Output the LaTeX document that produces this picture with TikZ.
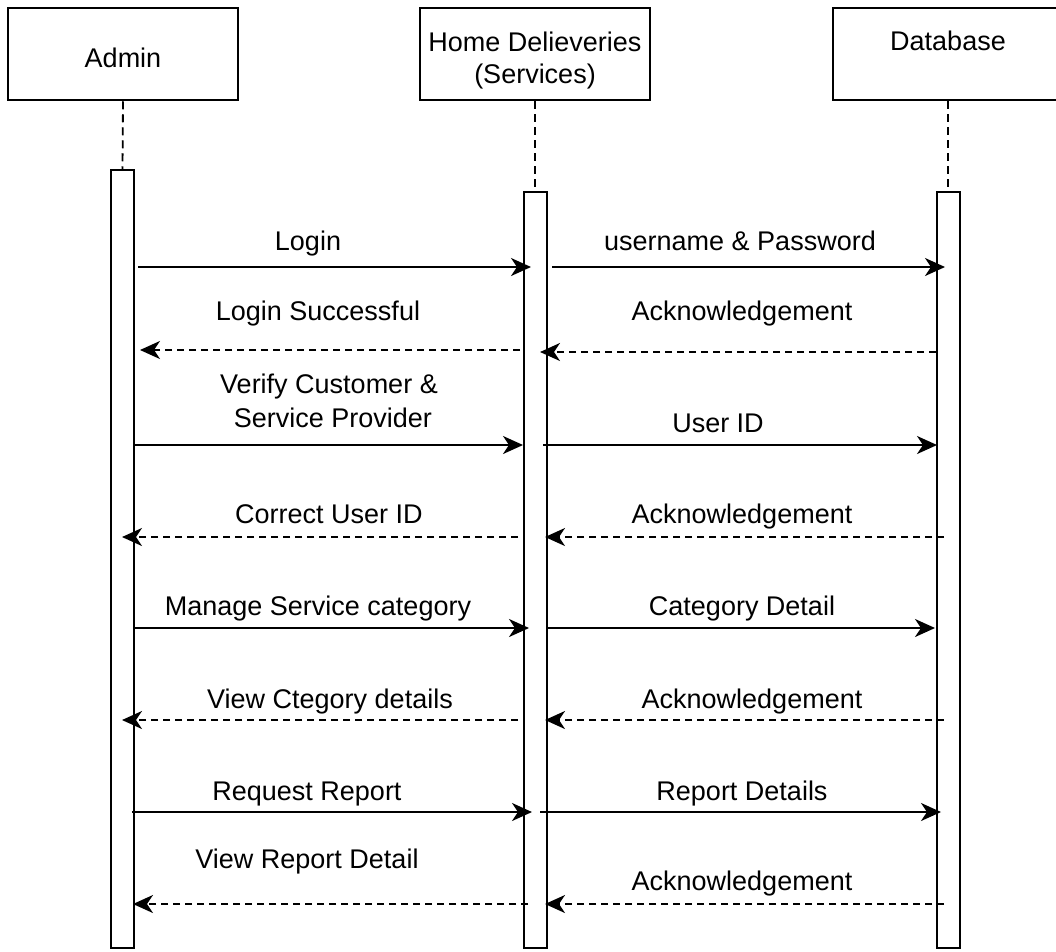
\documentclass[tikz,border=0pt]{standalone}
\usepackage{fontspec}
\setmainfont{Liberation Sans}
\usetikzlibrary{shapes,arrows,arrows.meta,positioning}

\tikzset{
  head/.style={draw, line width=2.5pt, minimum width=230pt, minimum height=92pt, inner sep=0pt},
  bar/.style={draw, line width=2pt, fill=white, minimum width=23pt, inner sep=0pt},
  life/.style={line width=1.8pt, dash pattern=on 8pt off 5pt},
  call/.style={line width=2.2pt, -{Stealth[length=20pt,width=18pt,inset=6pt]}},
  reply/.style={call, dash pattern=on 7pt off 5pt},
  lbl/.style={anchor=base, inner sep=0pt}
}

\begin{document}
\begin{tikzpicture}[x=1pt, y=-1pt, font=\fontsize{27}{32}\selectfont]
\useasboundingbox (0,0) rectangle (1056,951);

% participants
\node[head] (admin) at (123,54) {};
\node[head] (hd) at (535,54) {};
\node[head] (db) at (948,54) {};
\node[lbl] (adminname) at (123,67) {Admin};
\node[lbl] (hdname) at (535,51) {Home Delieveries};
\node[lbl] (hdsub) at (535,83) {(Services)};
\node[lbl] (dbname) at (948,50) {Database};

% activation bars
\node[bar, minimum height=778pt] (abar) at (122.5,559) {};
\node[bar, minimum height=756pt] (hbar) at (535,570) {};
\node[bar, minimum height=756pt] (dbar) at (948,570) {};

\draw [life] (admin.south) -- (abar.north);
\draw [life] (hd.south) -- (hbar.north);
\draw [life] (db.south) -- (dbar.north);

% message ends
\coordinate (a1) at (138,267);  \coordinate (h1) at (531,267);
\coordinate (h1r) at (552,267); \coordinate (d1) at (945,267);
\coordinate (h2) at (520,350);  \coordinate (a2) at (140,350);
\coordinate (d2) at (936,352);  \coordinate (h2r) at (540,352);
\coordinate (a3) at (134,445);  \coordinate (h3) at (523,445);
\coordinate (h3r) at (543,445); \coordinate (d3) at (937,445);
\coordinate (h4) at (518,537);  \coordinate (a4) at (122,537);
\coordinate (d4) at (944,537);  \coordinate (h4r) at (545,537);
\coordinate (a5) at (134,628);  \coordinate (h5) at (529,628);
\coordinate (h5r) at (546,628); \coordinate (d5) at (935,628);
\coordinate (h6) at (518,720);  \coordinate (a6) at (122,720);
\coordinate (d6) at (944,720);  \coordinate (h6r) at (545,720);
\coordinate (a7) at (132,812);  \coordinate (h7) at (532,812);
\coordinate (h7r) at (540,812); \coordinate (d7) at (941,812);
\coordinate (h8) at (528,904);  \coordinate (a8) at (133,904);
\coordinate (d8) at (944,904);  \coordinate (h8r) at (545,904);

% messages
\draw [call] (a1) -- (h1);
\draw [call] (h1r) -- (d1);
\draw [reply] (h2) -- (a2);
\draw [reply] (d2) -- (h2r);
\draw [call] (a3) -- (h3);
\draw [call] (h3r) -- (d3);
\draw [reply] (h4) -- (a4);
\draw [reply] (d4) -- (h4r);
\draw [call] (a5) -- (h5);
\draw [call] (h5r) -- (d5);
\draw [reply] (h6) -- (a6);
\draw [reply] (d6) -- (h6r);
\draw [call] (a7) -- (h7);
\draw [call] (h7r) -- (d7);
\draw [reply] (h8) -- (a8);
\draw [reply] (d8) -- (h8r);

% labels
\node[lbl] (login) at (308,250) {Login};
\node[lbl] (userpw) at (740,250) {username \& Password};
\node[lbl] (loginok) at (318,320) {Login Successful};
\node[lbl] (ack1) at (742,320) {Acknowledgement};
\node[lbl] (verify) at (329,393) {Verify Customer \&};
\node[lbl] (verifysub) at (333,427) {Service Provider};
\node[lbl] (userid) at (718,432) {User ID};
\node[lbl] (corrid) at (329,523) {Correct User ID};
\node[lbl] (ack2) at (742,523) {Acknowledgement};
\node[lbl] (manage) at (318,615) {Manage Service category};
\node[lbl] (catdet) at (742,615) {Category Detail};
\node[lbl] (viewcat) at (330,708) {View Ctegory details};
\node[lbl] (ack3) at (752,708) {Acknowledgement};
\node[lbl] (request) at (307,800) {Request Report};
\node[lbl] (repdet) at (742,800) {Report Details};
\node[lbl] (viewrep) at (307,868) {View Report Detail};
\node[lbl] (ack4) at (742,890) {Acknowledgement};
\end{tikzpicture}
\end{document}
